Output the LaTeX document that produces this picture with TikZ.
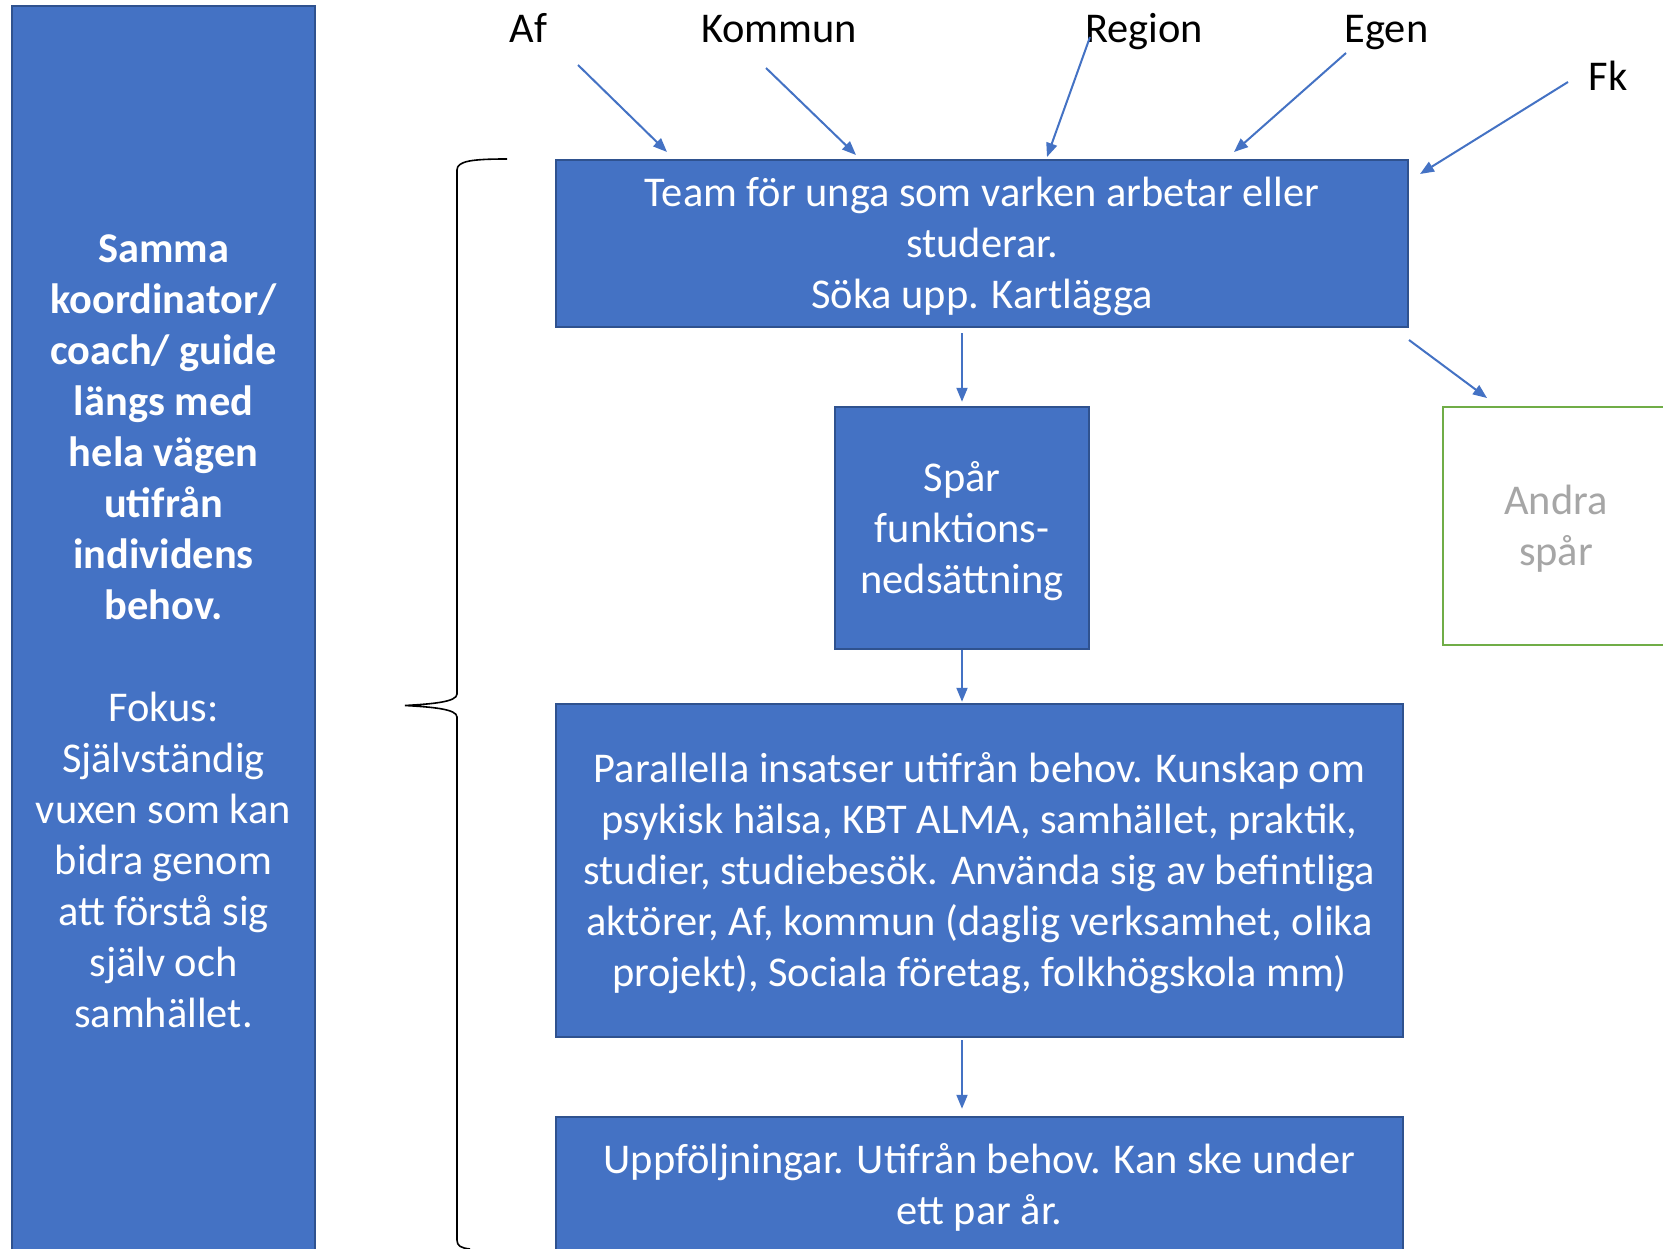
\documentclass[tikz,border=0pt]{standalone}
\usepackage{fontspec}
\setmainfont{Carlito}
\usetikzlibrary{arrows.meta}
\definecolor{boxblue}{HTML}{4472C4}
\definecolor{boxedge}{HTML}{2F528F}
\definecolor{andragreen}{HTML}{70AD47}
\definecolor{graytext}{HTML}{A6A6A6}
\newcommand\lowtext[2]{\raisebox{-#1}[\height][\depth]{\begin{tabular}{@{}c@{}}#2\end{tabular}}}
\begin{document}
\begin{tikzpicture}[x=1pt,y=-1pt,
  bluebox/.style={draw=boxedge, fill=boxblue, line width=2.5pt, text=white, align=center, inner sep=0pt, font=\fontsize{42.4}{51}\selectfont},
  greenbox/.style={draw=andragreen, fill=white, line width=2.5pt, text=graytext, align=center, inner sep=0pt, font=\fontsize{42.4}{51}\selectfont},
  lbl/.style={font=\fontsize{42.4}{51}\selectfont, text=black, inner sep=0pt, anchor=base},
  arr/.style={draw=boxblue, line width=2pt, -{Triangle[length=14pt,width=11pt]}},
  bracestyle/.style={draw=black, line width=1.6pt}]
\clip (0,0) rectangle (1663,1249);
\fill[white] (0,0) rectangle (1663,1249);

% left column
\node[bluebox, minimum width=303pt, minimum height=1250pt] (left) at (163.5,631)
  {\textbf{Samma}\\\textbf{koordinator/}\\\textbf{coach/ guide}\\\textbf{längs med}\\\textbf{hela vägen}\\\textbf{utifrån}\\\textbf{individens}\\\textbf{behov.}\\[51pt]Fokus:\\Självständig\\vuxen som kan\\bidra genom\\att förstå sig\\själv och\\samhället.};

% main boxes
\node[bluebox, minimum width=852pt, minimum height=167pt] (team) at (982,243.5)
  {\lowtext{4pt}{Team för unga som varken arbetar eller\\studerar.\\Söka upp. Kartlägga}};
\node[bluebox, minimum width=254pt, minimum height=242pt] (spr) at (962,528)
  {\lowtext{4pt}{Spår\\funktions-\\nedsättning}};
\node[greenbox, minimum width=226pt, minimum height=238pt] (andra) at (1556,526)
  {\lowtext{4pt}{Andra\\spår}};
\node[bluebox, minimum width=847pt, minimum height=333pt] (par) at (979.5,870.5)
  {\lowtext{4pt}{Parallella insatser utifrån behov. Kunskap om\\psykisk hälsa, KBT ALMA, samhället, praktik,\\studier, studiebesök. Använda sig av befintliga\\aktörer, Af, kommun (daglig verksamhet, olika\\projekt), Sociala företag, folkhögskola mm)}};
\node[bluebox, minimum width=847pt, minimum height=138pt] (upp) at (979.5,1186)
  {\lowtext{3pt}{Uppföljningar. Utifrån behov. Kan ske under\\ett par år.}};

% top labels
\node[lbl] (af) at (528.5,43) {Af};
\node[lbl] (kommun) at (779,43) {Kommun};
\node[lbl] (region) at (1144,43) {Region};
\node[lbl] (egen) at (1386.5,43) {Egen};
\node[lbl] (fk) at (1608,91) {Fk};

% arrow end points
\coordinate (afS) at (578,65);   \coordinate (afE) at (667,152);
\coordinate (koS) at (766,68);   \coordinate (koE) at (856,155);
\coordinate (reS) at (1090,37);  \coordinate (reE) at (1047,157);
\coordinate (egS) at (1346,53);  \coordinate (egE) at (1234,152);
\coordinate (fkS) at (1568,82);  \coordinate (fkE) at (1420,174);
\coordinate (anS) at (1409,340); \coordinate (anE) at (1487,398);

\draw[arr] (afS) -- (afE);
\draw[arr] (koS) -- (koE);
\draw[arr] (reS) -- (reE);
\draw[arr] (egS) -- (egE);
\draw[arr] (fkS) -- (fkE);
\draw[arr] (anS) -- (anE);
\draw[arr] ([yshift=-5pt]team.south -| spr.north) -- ([yshift=4pt]spr.north);
\draw[arr] (spr.south) -- ([yshift=1pt]par.north -| spr.south);
\draw[arr] ([yshift=-2pt]par.south -| spr.south) -- ([yshift=7pt]upp.north -| spr.south);

% brace
\draw[bracestyle] (507,159) .. controls (472,159) and (457,161) .. (457,170)
  -- (457,694) .. controls (457,702) and (432,704) .. (405,705.5)
  .. controls (432,707) and (457,709) .. (457,717)
  -- (457,1240) .. controls (457,1246) and (461,1248) .. (470,1249);
\end{tikzpicture}
\end{document}
